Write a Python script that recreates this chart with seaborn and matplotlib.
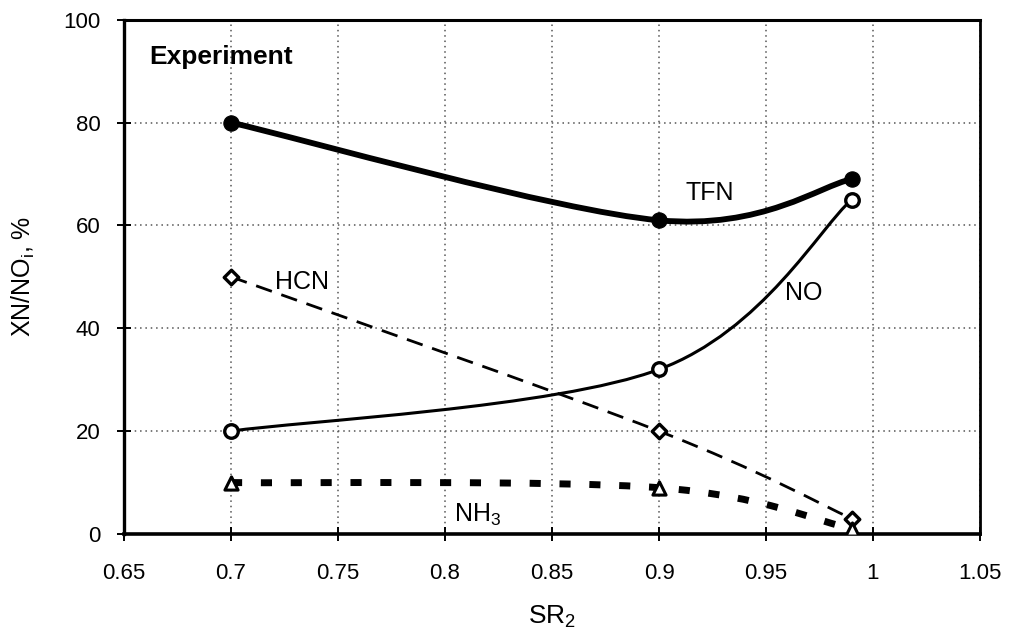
import numpy as np
import pandas as pd
import matplotlib
matplotlib.use("Agg")
import matplotlib.pyplot as plt
from matplotlib.path import Path
from matplotlib.patches import PathPatch
import seaborn as sns

# Measured species fractions vs. secondary stoichiometric ratio
sr2 = [0.7, 0.9, 0.99]
tfn = [80, 61, 69]
no = [20, 32, 65]
hcn = [50, 20, 3]
nh3 = [10, 9, 1]

x_ticks = [0.65, 0.7, 0.75, 0.8, 0.85, 0.9, 0.95, 1.0, 1.05]
x_tick_labels = ["0.65", "0.7", "0.75", "0.8", "0.85", "0.9", "0.95", "1", "1.05"]
y_ticks = [0, 20, 40, 60, 80, 100]

sns.set_theme(style="white")
plt.rcParams["font.family"] = ["Liberation Sans", "DejaVu Sans"]
plt.rcParams["text.color"] = "black"
plt.rcParams["axes.labelcolor"] = "black"
plt.rcParams["mathtext.fontset"] = "custom"
plt.rcParams["mathtext.rm"] = "Liberation Sans"
plt.rcParams["mathtext.it"] = "Liberation Sans"

fig = plt.figure(figsize=(10.15, 6.36), dpi=100)
ax = fig.add_axes([0.1222, 0.1604, 0.8433, 0.8086])


def smooth_path(xs, ys):
    """Cubic Bezier path through the points (spreadsheet-style smoothing)."""
    pts = np.column_stack([xs, ys]).astype(float)
    n = len(pts)
    verts = [tuple(pts[0])]
    codes = [Path.MOVETO]
    for i in range(n - 1):
        p_prev = pts[i - 1] if i > 0 else pts[i]
        p_next2 = pts[i + 2] if i + 2 < n else pts[i + 1]
        c1 = pts[i] + (pts[i + 1] - p_prev) / 6.0
        c2 = pts[i + 1] - (p_next2 - pts[i]) / 6.0
        verts += [tuple(c1), tuple(c2), tuple(pts[i + 1])]
        codes += [Path.CURVE4, Path.CURVE4, Path.CURVE4]
    return Path(verts, codes)


def draw_curve(xs, ys, **kw):
    patch = PathPatch(smooth_path(xs, ys), facecolor="none", edgecolor="black",
                      zorder=3, **kw)
    ax.add_patch(patch)


draw_curve(sr2, tfn, linewidth=4.2, linestyle="-", capstyle="round")
draw_curve(sr2, no, linewidth=2.2, linestyle="-")
draw_curve(sr2, hcn, linewidth=2.0, linestyle=(0, (6, 3.6)))
draw_curve(sr2, nh3, linewidth=5.0, linestyle=(0, (1.6, 2.7)))

df = pd.DataFrame({"SR2": sr2, "TFN": tfn, "NO": no, "HCN": hcn, "NH3": nh3})
sns.scatterplot(data=df, x="SR2", y="TFN", ax=ax, marker="o", s=120,
                color="black", edgecolor="black", zorder=5)
sns.scatterplot(data=df, x="SR2", y="NO", ax=ax, marker="o", s=95,
                facecolor="white", edgecolor="black", linewidth=2.4, zorder=5)
sns.scatterplot(data=df, x="SR2", y="HCN", ax=ax, marker="D", s=55,
                facecolor="white", edgecolor="black", linewidth=2.4, zorder=5)
sns.scatterplot(data=df, x="SR2", y="NH3", ax=ax, marker="^", s=90,
                facecolor="white", edgecolor="black", linewidth=2.2, zorder=5)

ax.set_xlim(0.65, 1.05)
ax.set_ylim(0, 100)
ax.set_xticks(x_ticks)
ax.set_xticklabels(x_tick_labels)
ax.set_yticks(y_ticks)
ax.tick_params(axis="both", labelsize=16, colors="black", direction="inout",
               length=10, width=1.4, left=True, bottom=True)
ax.tick_params(axis="x", pad=16)
ax.tick_params(axis="y", pad=12)

ax.grid(True, which="major", linestyle=(0, (1, 2.5)), linewidth=1.1, color="#555555")
ax.set_axisbelow(True)
for side in ["left", "bottom", "top", "right"]:
    ax.spines[side].set_color("black")
ax.spines["left"].set_linewidth(2.4)
ax.spines["bottom"].set_linewidth(2.6)
ax.spines["top"].set_linewidth(2.2)
ax.spines["right"].set_linewidth(2.0)

ax.set_xlabel("SR$_2$", fontsize=19, labelpad=14)
ax.set_ylabel("XN/NO$_\\mathregular{i}$, %", fontsize=18, labelpad=19)

ax.text(0.662, 92.8, "Experiment", fontsize=19, fontweight="bold", ha="left", va="center")
ax.text(0.9126, 66.3, "TFN", fontsize=18, ha="left", va="center")
ax.text(0.9587, 46.9, "NO", fontsize=18, ha="left", va="center")
ax.text(0.7206, 49, "HCN", fontsize=18, ha="left", va="center")
ax.text(0.804, 3.7, "NH$_3$", fontsize=18, ha="left", va="center")

fig.savefig("out.png", dpi=100, facecolor="white")
